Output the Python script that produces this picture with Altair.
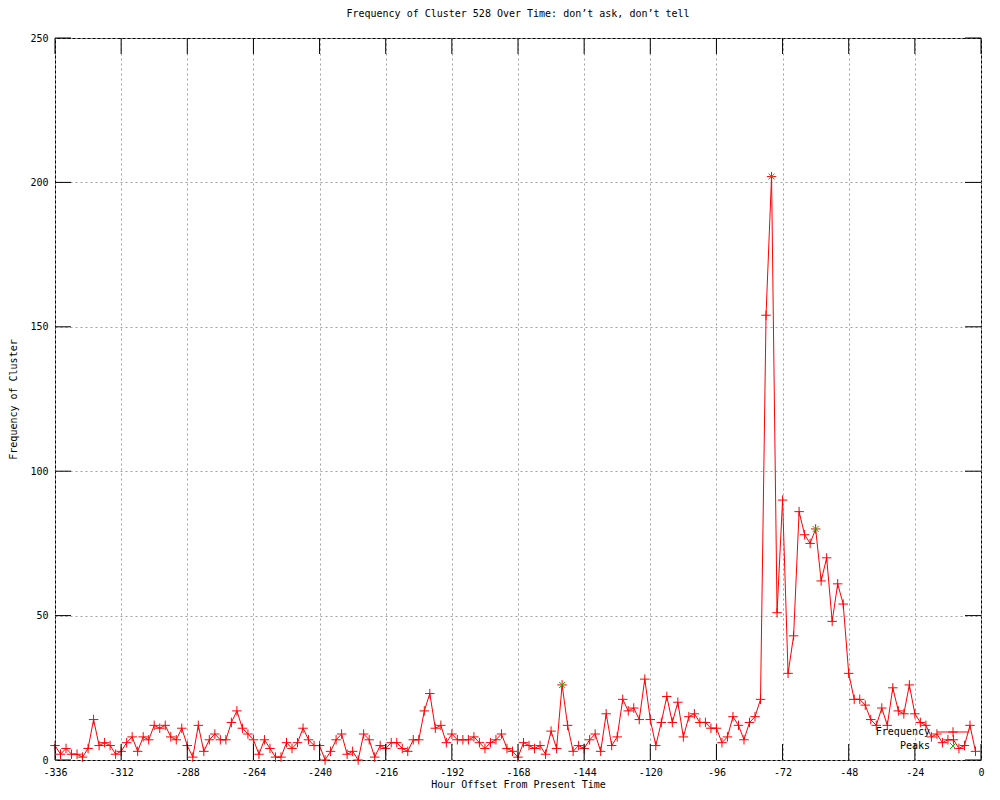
import altair as alt
import pandas as pd

# ---- data ----
hours = list(range(-336, 0, 2))
freq = [5, 2, 4, 2, 2, 1, 4, 14, 5, 6,
        5, 2, 3, 6, 8, 3, 8, 7, 12, 11,
        12, 8, 7, 11, 5, 1, 12, 3, 7, 9,
        7, 7, 13, 17, 11, 9, 7, 2, 7, 4,
        1, 1, 6, 4, 6, 11, 7, 5, 5, 0,
        3, 7, 9, 2, 3, 0, 9, 7, 1, 5,
        4, 6, 6, 4, 3, 7, 7, 17, 23, 11,
        12, 6, 9, 7, 7, 7, 8, 6, 4, 6,
        7, 9, 4, 3, 1, 6, 5, 4, 5, 2,
        10, 4, 26, 12, 3, 5, 4, 7, 9, 3,
        16, 5, 8, 21, 17, 18, 14, 28, 14, 5,
        13, 22, 13, 20, 8, 15, 16, 13, 13, 11,
        11, 6, 8, 15, 12, 7, 13, 15, 21, 154,
        202, 51, 90, 30, 43, 86, 78, 75, 80, 62,
        70, 48, 61, 54, 30, 21, 21, 19, 14, 12,
        18, 12, 25, 17, 16, 26, 16, 13, 12, 8,
        9, 6, 7, 7, 4, 5, 12, 3]
peak_hours = [-152, -76, -60]
peak_values = [26, 202, 80]
x_ticks = [-336, -312, -288, -264, -240, -216, -192, -168, -144, -120, -96, -72, -48, -24, 0]
y_ticks = [0, 50, 100, 150, 200, 250]

TITLE = "Frequency of Cluster 528 Over Time: don\u2019t ask, don\u2019t tell"
FONT = "DejaVu Sans Mono"
W, H = 926, 722
TICK = 16

df = pd.DataFrame({"hour": hours, "freq": freq})
pk = pd.DataFrame({"hour": peak_hours, "freq": peak_values})
xt = pd.DataFrame({"hour": x_ticks})
yt = pd.DataFrame({"freq": y_ticks})

PLUS = "M-1,0L1,0M0,-1L0,1"
CROSS = "M-1,-1L1,1M-1,1L1,-1"

xscale = alt.Scale(domain=[-336, 0], nice=False, zero=False)
yscale = alt.Scale(domain=[0, 250], nice=False)

x_axis = alt.Axis(values=x_ticks, labelExpr="'' + datum.value",
                  title="Hour Offset From Present Time",
                  grid=True, domain=False, ticks=False, labelPadding=7,
                  labelFlush=False, labelOverlap=False,
                  titleX=W / 2, titleY=24, titleBaseline="middle", titleAlign="center")
y_axis = alt.Axis(values=y_ticks, labelExpr="'' + datum.value",
                  title="Frequency of Cluster",
                  grid=True, domain=False, ticks=False, labelPadding=7,
                  labelFlush=False, labelOverlap=False,
                  titleX=-42, titleY=H / 2, titleAngle=270,
                  titleBaseline="middle", titleAlign="center")

X = alt.X("hour:Q", scale=xscale, axis=x_axis)
Y = alt.Y("freq:Q", scale=yscale, axis=y_axis)

line = alt.Chart(df).mark_line(color="#ff0000", strokeWidth=1).encode(x=X, y=Y)
pts = alt.Chart(df).mark_point(shape=PLUS, size=90, color="#ff0000", strokeWidth=1,
                               filled=False, opacity=1).encode(x=X, y=Y)
peaks = alt.Chart(pk).mark_point(shape=CROSS, size=36, color="#00c000", strokeWidth=1,
                                 filled=False, opacity=1).encode(x=X, y=Y)

# gnuplot-style inward ticks on all four sides
xt_bot = alt.Chart(xt).mark_rule(color="black", strokeWidth=1).encode(
    x=X, y=alt.value(H), y2=alt.value(H - TICK))
xt_top = alt.Chart(xt).mark_rule(color="black", strokeWidth=1).encode(
    x=X, y=alt.value(0), y2=alt.value(TICK))
yt_left = alt.Chart(yt).mark_rule(color="black", strokeWidth=1).encode(
    y=Y, x=alt.value(0), x2=alt.value(TICK))
yt_right = alt.Chart(yt).mark_rule(color="black", strokeWidth=1).encode(
    y=Y, x=alt.value(W - TICK), x2=alt.value(W))

# key (bottom right, inside)
LX_TEXT, LX_SAMPLE = 875, 898
LY1, LY2 = 694, 708
key_t1 = alt.Chart(pd.DataFrame({"k": ["Frequency"]})).mark_text(
    align="right", baseline="middle", font=FONT, fontSize=10, color="black").encode(
    x=alt.value(LX_TEXT), y=alt.value(LY1), text="k:N")
key_t2 = alt.Chart(pd.DataFrame({"k": ["Peaks"]})).mark_text(
    align="right", baseline="middle", font=FONT, fontSize=10, color="black").encode(
    x=alt.value(LX_TEXT), y=alt.value(LY2), text="k:N")
key_line = alt.Chart(pd.DataFrame({"k": ["Frequency"]})).mark_rule(
    color="#ff0000", strokeWidth=1).encode(
    x=alt.value(LX_SAMPLE - 16), x2=alt.value(LX_SAMPLE + 16), y=alt.value(LY1))
key_plus = alt.Chart(pd.DataFrame({"k": ["Frequency"]})).mark_point(
    shape=PLUS, size=90, color="#ff0000", strokeWidth=1, filled=False, opacity=1).encode(
    x=alt.value(LX_SAMPLE), y=alt.value(LY1))
key_cross = alt.Chart(pd.DataFrame({"k": ["Peaks"]})).mark_point(
    shape=CROSS, size=36, color="#00c000", strokeWidth=1, filled=False, opacity=1).encode(
    x=alt.value(LX_SAMPLE), y=alt.value(LY2))

chart = alt.layer(
    line, pts, peaks, xt_bot, xt_top, yt_left, yt_right,
    key_t1, key_t2, key_line, key_plus, key_cross,
).properties(
    width=W, height=H,
    background="white",
    title=alt.TitleParams(TITLE, font=FONT, fontSize=10, fontWeight="normal",
                          color="black", anchor="middle", offset=14),
    autosize=alt.AutoSizeParams(type="none"),
    padding={"left": 47, "top": 30, "right": 11, "bottom": 32},
).configure_view(
    stroke="black", strokeWidth=1
).configure_axis(
    labelFont=FONT, labelFontSize=10, labelColor="black",
    titleFont=FONT, titleFontSize=10, titleFontWeight="normal", titleColor="black",
    gridColor="#a0a0a0", gridDash=[2, 3], gridOpacity=1, gridWidth=1,
)

chart.save("out.html", embed_options={"renderer": "svg", "actions": False})
